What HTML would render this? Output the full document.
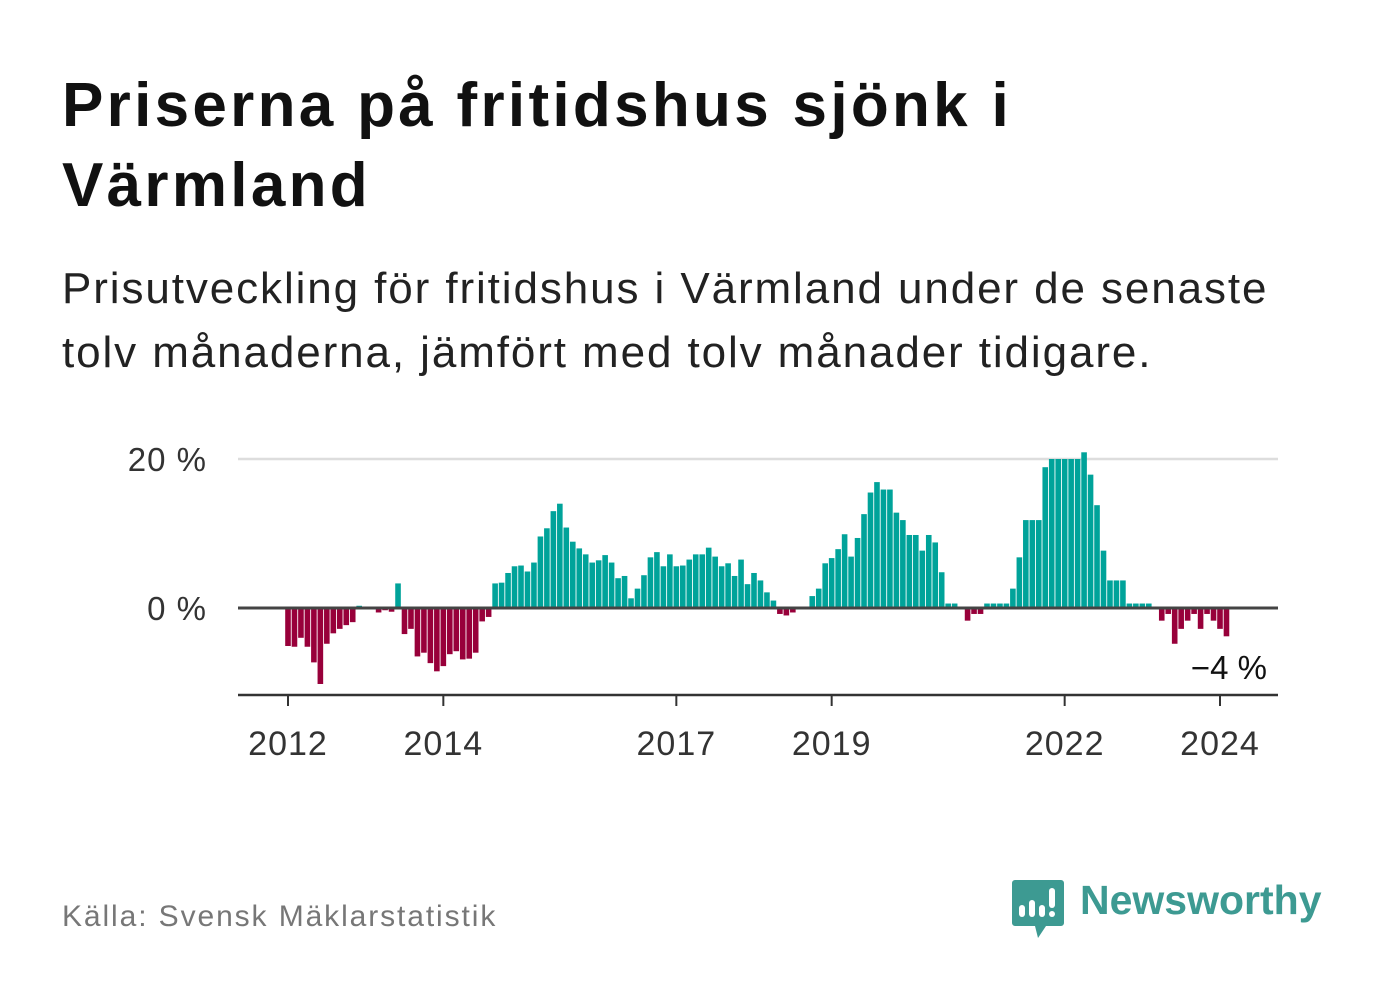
<!DOCTYPE html>
<html><head><meta charset="utf-8"><style>
body{margin:0;background:#fff;width:1382px;height:999px;overflow:hidden;font-family:"Liberation Sans",sans-serif;}
.t{position:absolute;left:62px;top:66px;font-size:62px;font-weight:bold;color:#111;line-height:80px;letter-spacing:3.3px;margin:0}
.s{position:absolute;left:62px;top:257px;font-size:44px;color:#222;line-height:64px;margin:0;letter-spacing:1.9px}
.src{position:absolute;left:62px;top:900px;font-size:30px;color:#777;letter-spacing:1.9px}
</style></head><body>
<h1 class="t">Priserna på fritidshus sjönk i<br>Värmland</h1>
<p class="s">Prisutveckling för fritidshus i Värmland under de senaste<br>tolv månaderna, jämfört med tolv månader tidigare.</p>
<svg id="chart" width="1382" height="999" style="position:absolute;left:0;top:0" font-family="Liberation Sans, sans-serif"></svg>
<div class="src">Källa: Svensk Mäklarstatistik</div>
<div style="position:absolute;left:1012px;top:880px;">
<svg width="52" height="60"><path d="M3 0h46a3 3 0 0 1 3 3v40a3 3 0 0 1-3 3H34l-8 12-3-12H3a3 3 0 0 1-3-3V3a3 3 0 0 1 3-3z" fill="#3d9a92"/><rect x="7" y="25" width="6" height="12" rx="3" fill="#fff"/><rect x="17" y="20" width="6" height="17" rx="3" fill="#fff"/><rect x="27" y="25" width="6" height="12" rx="3" fill="#fff"/><rect x="37" y="8" width="6" height="20" rx="3" fill="#fff"/><circle cx="40" cy="34" r="3" fill="#fff"/></svg>
<span style="position:absolute;left:68px;top:-3px;font-size:41px;font-weight:bold;color:#3d9a92;white-space:nowrap">Newsworthy</span>
</div>
<script>
const values=[-5.1,-5.2,-4.0,-5.2,-7.3,-10.2,-4.8,-3.4,-2.8,-2.3,-1.9,0.3,0,0,-0.6,-0.3,-0.5,3.3,-3.5,-2.8,-6.5,-6.0,-7.4,-8.5,-7.8,-6.2,-5.8,-6.9,-6.8,-6.0,-1.8,-1.2,
3.3,3.4,4.7,5.6,5.7,4.9,6.1,9.6,10.7,13.0,14.0,10.8,8.9,8.0,7.2,6.1,6.4,7.1,6.1,4.0,4.3,1.3,2.6,4.4,6.8,7.5,5.6,7.2,5.6,5.7,6.5,7.2,7.2,8.1,6.9,5.6,6.0,4.3,6.5,3.2,4.7,3.7,2.1,1.0,
-0.8,-1.0,-0.6,0,0,1.6,2.6,6.0,6.7,7.9,9.9,6.9,9.4,12.6,15.5,16.9,15.9,15.9,12.8,11.8,9.8,9.8,7.7,9.8,8.8,4.8,0.6,0.6,0,-1.7,-0.8,-0.8,0.6,0.6,0.6,0.6,
2.6,6.8,11.8,11.8,11.8,18.9,20.0,20.0,20.0,20.0,20.0,20.9,17.9,13.8,7.7,3.7,3.7,3.7,0.6,0.6,0.6,0.6,0,-1.7,-0.8,-4.8,-2.8,-1.7,-0.8,-2.8,-0.8,-1.7,-2.8,-3.8];
const tickYears=[2012,2014,2017,2019,2022,2024];
const yTicks=[0,20];
const yTickLabels=["0 %","20 %"];
const lastLabel="−4 %";
const svg=document.getElementById('chart');
const NS='http://www.w3.org/2000/svg';
function x(i){return 288+i*(1220-288)/144;}
function y(v){return 608-v*7.45;}
function mk(t,a){const e=document.createElementNS(NS,t);for(const k in a)e.setAttribute(k,a[k]);svg.appendChild(e);return e;}
yTicks.forEach((v,k)=>{
 if(v!==0){const g=mk('line',{x1:238,x2:1278,y1:y(v),y2:y(v),stroke:'#ddd','stroke-width':2.5});
 
 }
 const t=mk('text',{x:207,y:y(v)+12,'text-anchor':'end','font-size':33,fill:'#333','letter-spacing':1});t.textContent=yTickLabels[k];
 
 
});
values.forEach((v,i)=>{
 if(v===0)return;
 const r=mk('rect',{x:x(i)-2.8,width:5.6,y:v>0?y(v):608,height:Math.abs(v)*7.45,fill:v>0?'#00a39a':'#98003a'});
 
 
});
const z=mk('line',{x1:238,x2:1278,y1:608,y2:608,stroke:'#444','stroke-width':3});


const ax=mk('line',{x1:238,x2:1278,y1:695,y2:695,stroke:'#333','stroke-width':2.5});


tickYears.forEach(yr=>{
 const xi=x((yr-2012)*12);
 const tk=mk('line',{x1:xi,x2:xi,y1:695,y2:706,stroke:'#333','stroke-width':2});
 
 
 const t=mk('text',{x:xi,y:755,'text-anchor':'middle','font-size':34,fill:'#333','letter-spacing':1});t.textContent=yr;
 
 
});
const ll=mk('text',{x:1267,y:679,'text-anchor':'end','font-size':33,fill:'#111'});ll.textContent=lastLabel;


</script>
</body></html>
